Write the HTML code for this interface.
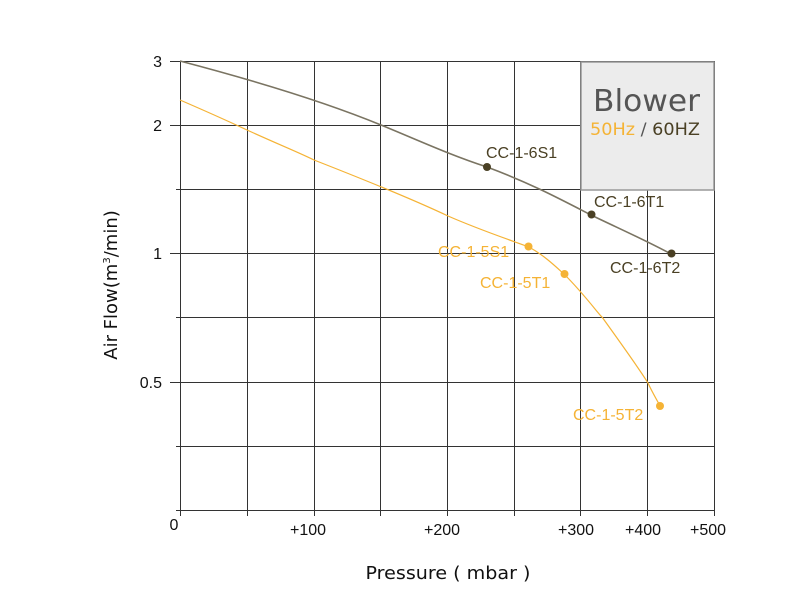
<!DOCTYPE html>
<html><head><meta charset="utf-8"><style>body{margin:0;background:#fff}svg{display:block}</style></head><body>
<svg width="800" height="600" xmlns="http://www.w3.org/2000/svg" font-family="Liberation Sans, Arial, sans-serif">
<rect width="800" height="600" fill="#fff"/>
<g stroke="#333" stroke-width="1">
<line x1="180.5" y1="61" x2="180.5" y2="511"/><line x1="247.5" y1="61" x2="247.5" y2="511"/><line x1="314.5" y1="61" x2="314.5" y2="511"/><line x1="380.5" y1="61" x2="380.5" y2="511"/><line x1="447.5" y1="61" x2="447.5" y2="511"/><line x1="514.5" y1="61" x2="514.5" y2="511"/><line x1="580.5" y1="61" x2="580.5" y2="511"/><line x1="647.5" y1="61" x2="647.5" y2="511"/><line x1="714.5" y1="61" x2="714.5" y2="511"/>
<line x1="170" y1="61.5" x2="715" y2="61.5"/><line x1="170" y1="125.5" x2="715" y2="125.5"/><line x1="176" y1="189.5" x2="715" y2="189.5"/><line x1="170" y1="253.5" x2="715" y2="253.5"/><line x1="176" y1="317.5" x2="715" y2="317.5"/><line x1="170" y1="382.5" x2="715" y2="382.5"/><line x1="176" y1="446.5" x2="715" y2="446.5"/><line x1="176" y1="510.5" x2="715" y2="510.5"/>
<line x1="180.5" y1="511" x2="180.5" y2="516"/><line x1="247.5" y1="511" x2="247.5" y2="516"/><line x1="314.5" y1="511" x2="314.5" y2="516"/><line x1="380.5" y1="511" x2="380.5" y2="516"/><line x1="447.5" y1="511" x2="447.5" y2="516"/><line x1="514.5" y1="511" x2="514.5" y2="516"/><line x1="580.5" y1="511" x2="580.5" y2="516"/><line x1="647.5" y1="511" x2="647.5" y2="516"/><line x1="714.5" y1="511" x2="714.5" y2="516"/>
</g>
<rect x="581" y="62" width="133" height="128" fill="#ececec" stroke="#999" stroke-width="1.5"/>
<text x="593" y="111" font-size="30" fill="#555" textLength="107" lengthAdjust="spacingAndGlyphs" font-family="DejaVu Sans, sans-serif">Blower</text>
<text x="590" y="135" font-size="17" textLength="110" lengthAdjust="spacingAndGlyphs" font-family="DejaVu Sans, sans-serif"><tspan fill="#f5b335">50Hz</tspan><tspan fill="#555"> / </tspan><tspan fill="#4a4024">60HZ</tspan></text>
<path d="M180,61 C260,82 330,104 381,125 C420,141 450,155 487,167 C530,183 560,199 591,215 C620,229 645,240 671,254" fill="none" stroke="#7a7462" stroke-width="1.6"/>
<path d="M180,100 C210,113 230,122 247,130 C280,145 300,153 314,160 C360,178 410,198 448,216 C480,230 510,240 529,247 C545,256 555,266 564,274 C585,295 600,316 602,317 C620,342 640,370 648,383 C652,392 657,400 660,406" fill="none" stroke="#f5b335" stroke-width="1.2"/>
<g fill="#4a4024"><circle cx="487" cy="167" r="4"/><circle cx="591.5" cy="214.5" r="4"/><circle cx="671.5" cy="253.5" r="4"/></g>
<g fill="#f5b335"><circle cx="528.5" cy="246.5" r="4"/><circle cx="564.5" cy="274" r="4"/><circle cx="660" cy="406" r="4"/></g>
<g font-size="16" fill="#4a4024"><text x="486" y="158">CC-1-6S1</text><text x="594" y="207">CC-1-6T1</text><text x="610" y="273">CC-1-6T2</text></g>
<g font-size="16" fill="#f5b335"><text x="438" y="257">CC-1-5S1</text><text x="480" y="288">CC-1-5T1</text><text x="573" y="420">CC-1-5T2</text></g>
<g font-size="16" fill="#111" text-anchor="end"><text x="162" y="67">3</text><text x="162" y="131">2</text><text x="162" y="259">1</text><text x="162" y="388">0.5</text></g>
<g font-size="16" fill="#111" text-anchor="middle"><text x="174" y="530">0</text><text x="308" y="535">+100</text><text x="442" y="535">+200</text><text x="576" y="535">+300</text><text x="643" y="535">+400</text><text x="708" y="535">+500</text></g>
<text x="448" y="579" font-size="18" fill="#111" text-anchor="middle" textLength="165" lengthAdjust="spacingAndGlyphs" font-family="DejaVu Sans, sans-serif">Pressure ( mbar )</text>
<text transform="translate(117,285) rotate(-90)" font-size="18" fill="#111" text-anchor="middle" font-family="DejaVu Sans, sans-serif">Air Flow(m<tspan font-size="10" dy="-7">3</tspan><tspan dy="7">/min)</tspan></text>
</svg>
</body></html>
